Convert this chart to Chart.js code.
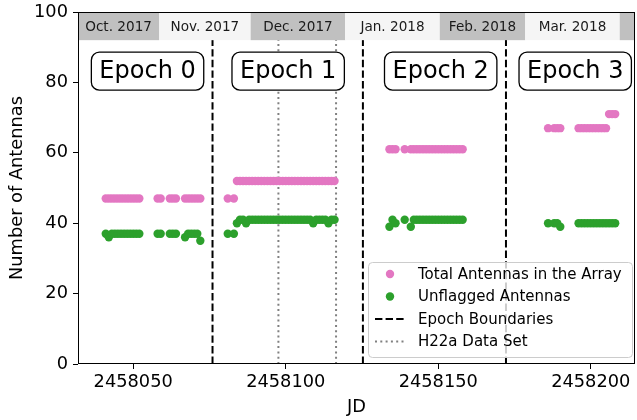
<!DOCTYPE html>
<html>
<head>
<meta charset="utf-8">
<title>Antennas per night</title>
<script src="https://cdn.jsdelivr.net/npm/chart.js@4.4.1/dist/chart.umd.min.js"></script>
<style>
    html, body { margin: 0; padding: 0; background: #ffffff; }
    #wrap { width: 637px; height: 420px; }
</style>
</head>
<body>
<div id="wrap"><canvas id="antennas" width="637" height="420"></canvas></div>
<script>
(function (window, document) {
    'use strict';

    // Observing nights (JD) and antenna counts per night, epoch by epoch
    var nights = [
        2458041, 2458042, 2458043, 2458044, 2458045, 2458046, 2458047, 2458048, 2458049, 2458050, 2458051, 2458052,
        2458058, 2458059, 2458062, 2458063, 2458064,
        2458067, 2458068, 2458069, 2458070, 2458071, 2458072,

        2458081, 2458083,
        2458084, 2458085, 2458086, 2458087, 2458088, 2458089, 2458090, 2458091, 2458092, 2458093, 2458094,
        2458095, 2458096, 2458097, 2458098, 2458099, 2458100, 2458101, 2458102, 2458103, 2458104, 2458105,
        2458106, 2458107, 2458108, 2458109, 2458110, 2458111, 2458112, 2458113, 2458114, 2458115, 2458116,

        2458134, 2458135, 2458136, 2458139,
        2458141, 2458142, 2458143, 2458144, 2458145, 2458146, 2458147, 2458148, 2458149,
        2458150, 2458151, 2458152, 2458153, 2458154, 2458155, 2458156, 2458157, 2458158,

        2458186, 2458188, 2458189, 2458190,
        2458196, 2458197, 2458198, 2458199, 2458200, 2458201, 2458202, 2458203, 2458204, 2458205,
        2458206, 2458207, 2458208
    ];

    var totalAnts = [
        47, 47, 47, 47, 47, 47, 47, 47, 47, 47, 47, 47,
        47, 47, 47, 47, 47,
        47, 47, 47, 47, 47, 47,

        47, 47,
        52, 52, 52, 52, 52, 52, 52, 52, 52, 52, 52,
        52, 52, 52, 52, 52, 52, 52, 52, 52, 52, 52,
        52, 52, 52, 52, 52, 52, 52, 52, 52, 52, 52,

        61, 61, 61, 61,
        61, 61, 61, 61, 61, 61, 61, 61, 61,
        61, 61, 61, 61, 61, 61, 61, 61, 61,

        67, 67, 67, 67,
        67, 67, 67, 67, 67, 67, 67, 67, 67, 67,
        71, 71, 71
    ];

    var unflaggedAnts = [
        37, 36, 37, 37, 37, 37, 37, 37, 37, 37, 37, 37,
        37, 37, 37, 37, 37,
        36, 37, 37, 37, 37, 35,

        37, 37,
        40, 41, 41, 40, 41, 41, 41, 41, 41, 41, 41,
        41, 41, 41, 41, 41, 41, 41, 41, 41, 41, 41,
        41, 41, 41, 40, 41, 41, 41, 41, 40, 41, 41,

        39, 41, 40, 41,
        39, 41, 41, 41, 41, 41, 41, 41, 41,
        41, 41, 41, 41, 41, 41, 41, 41, 41,

        40, 40, 40, 39,
        40, 40, 40, 40, 40, 40, 40, 40, 40, 40,
        40, 40, 40
    ];

    var epochEdges = [2458076.0, 2458125.3, 2458172.2];
    var h22aEdges = [2458097.6, 2458116.5];

    var epochNames = ['Epoch 0', 'Epoch 1', 'Epoch 2', 'Epoch 3'];
    var epochNameJD = [2458054.7, 2458100.8, 2458150.8, 2458194.9];

    var monthStarts = [2458027.5, 2458058.5, 2458088.5, 2458119.5, 2458150.5, 2458178.5, 2458209.5, 2458239.5];
    var monthNames = ['Oct. 2017', 'Nov. 2017', 'Dec. 2017', 'Jan. 2018', 'Feb. 2018', 'Mar. 2018', 'Apr. 2018'];

    var xTicks = [2458050, 2458100, 2458150, 2458200];
    var yTicks = [0, 20, 40, 60, 80, 100];

    var FONT = "'DejaVu Sans', 'Liberation Sans', sans-serif";
    var PINK = '#e377c2';
    var GREEN = '#2ca02c';

    function points(values) {
        return nights.map(function (jd, i) {
            return { x: jd, y: values[i] };
        });
    }

    function clipToArea(ctx, area) {
        ctx.beginPath();
        ctx.rect(area.left, area.top, area.right - area.left, area.bottom - area.top);
        ctx.clip();
    }

    function vline(ctx, xs, ys, jd) {
        var px = xs.getPixelForValue(jd);
        ctx.beginPath();
        ctx.moveTo(px, ys.getPixelForValue(0));
        ctx.lineTo(px, ys.getPixelForValue(100));
        ctx.stroke();
    }

    function roundRect(ctx, x, y, w, h, r) {
        ctx.beginPath();
        ctx.moveTo(x + r, y);
        ctx.lineTo(x + w - r, y);
        ctx.arcTo(x + w, y, x + w, y + r, r);
        ctx.lineTo(x + w, y + h - r);
        ctx.arcTo(x + w, y + h, x + w - r, y + h, r);
        ctx.lineTo(x + r, y + h);
        ctx.arcTo(x, y + h, x, y + h - r, r);
        ctx.lineTo(x, y + r);
        ctx.arcTo(x, y, x + r, y, r);
        ctx.closePath();
    }

    // no extra room for the end tick labels, the frame sits where the layout puts it
    function dropLabelPadding(scale) {
        scale.paddingTop = 0;
        scale.paddingBottom = 0;
        scale.paddingLeft = 0;
        scale.paddingRight = 0;
    }

    // boundaries, H22a range and the month strip along the top
    var backdrop = {
        id: 'backdrop',
        beforeDatasetsDraw: function (chart) {
            var ctx = chart.ctx;
            var area = chart.chartArea;
            var xs = chart.scales.x;
            var ys = chart.scales.y;

            ctx.save();
            clipToArea(ctx, area);

            ctx.lineWidth = 2;
            ctx.strokeStyle = '#000000';
            ctx.setLineDash([7.4, 3.2]);
            epochEdges.forEach(function (jd) { vline(ctx, xs, ys, jd); });

            ctx.strokeStyle = '#808080';
            ctx.setLineDash([2, 3.3]);
            h22aEdges.forEach(function (jd) { vline(ctx, xs, ys, jd); });
            ctx.setLineDash([]);

            var top = ys.getPixelForValue(100);
            var bottom = ys.getPixelForValue(92);

            ctx.font = '13.6px ' + FONT;
            ctx.textAlign = 'center';
            ctx.textBaseline = 'middle';

            monthNames.forEach(function (name, i) {
                var x0 = Math.max(xs.getPixelForValue(monthStarts[i]), area.left);
                var x1 = Math.min(xs.getPixelForValue(monthStarts[i + 1]), area.right);

                if (x1 <= x0) {
                    return;
                }

                ctx.fillStyle = i % 2 === 0 ? '#c0c0c0' : '#f5f5f5';
                ctx.fillRect(x0, top, x1 - x0, bottom - top);

                if (ctx.measureText(name).width < x1 - x0) {
                    ctx.fillStyle = '#1a1a1a';
                    ctx.fillText(name, (x0 + x1) / 2, (top + bottom) / 2 + 1);
                }
            });

            ctx.restore();
        }
    };

    // epoch tags, legend and the frame
    var overlay = {
        id: 'overlay',
        afterDatasetsDraw: function (chart) {
            var ctx = chart.ctx;
            var area = chart.chartArea;
            var xs = chart.scales.x;
            var ys = chart.scales.y;

            ctx.save();
            ctx.font = '24px ' + FONT;
            ctx.textAlign = 'center';
            ctx.textBaseline = 'middle';

            epochNames.forEach(function (name, i) {
                var cx = xs.getPixelForValue(epochNameJD[i]);
                var cy = ys.getPixelForValue(83.2);
                var w = ctx.measureText(name).width + 16;
                var h = 38;

                roundRect(ctx, cx - w / 2, cy - h / 2, w, h, 8);
                ctx.fillStyle = '#ffffff';
                ctx.fill();
                ctx.lineWidth = 1.3;
                ctx.strokeStyle = '#000000';
                ctx.stroke();

                ctx.fillStyle = '#000000';
                ctx.fillText(name, cx, cy + 1);
            });

            // legend box in the lower right corner
            var boxW = 264;
            var boxH = 95;
            var left = area.right - 3 - boxW;
            var top = area.bottom - 7 - boxH;
            var rowH = 22.5;

            roundRect(ctx, left + 0.5, top + 0.5, boxW, boxH, 4);
            ctx.fillStyle = 'rgba(255,255,255,0.8)';
            ctx.fill();
            ctx.lineWidth = 1;
            ctx.strokeStyle = '#cccccc';
            ctx.stroke();

            var rows = [
                { label: 'Total Antennas in the Array', kind: 'dot', color: PINK },
                { label: 'Unflagged Antennas', kind: 'dot', color: GREEN },
                { label: 'Epoch Boundaries', kind: 'line', color: '#000000', dash: [7.4, 3.2] },
                { label: 'H22a Data Set', kind: 'line', color: '#808080', dash: [2, 3.3] }
            ];

            ctx.font = '15px ' + FONT;
            ctx.textAlign = 'left';

            rows.forEach(function (row, i) {
                var y = top + 12 + i * rowH;

                if (row.kind === 'dot') {
                    ctx.beginPath();
                    ctx.arc(left + 22, y, 4.2, 0, Math.PI * 2);
                    ctx.fillStyle = row.color;
                    ctx.fill();
                } else {
                    ctx.beginPath();
                    ctx.setLineDash(row.dash);
                    ctx.lineWidth = 2;
                    ctx.strokeStyle = row.color;
                    ctx.moveTo(left + 7, y);
                    ctx.lineTo(left + 37, y);
                    ctx.stroke();
                    ctx.setLineDash([]);
                }

                ctx.fillStyle = '#000000';
                ctx.fillText(row.label, left + 50, y + 1);
            });

            ctx.restore();
        },
        afterDraw: function (chart) {
            var ctx = chart.ctx;
            var area = chart.chartArea;

            ctx.save();
            ctx.lineWidth = 1;
            ctx.strokeStyle = '#000000';
            ctx.strokeRect(Math.round(area.left) + 0.5, Math.round(area.top) + 0.5,
                Math.round(area.right - area.left) - 1, Math.round(area.bottom - area.top) - 1);
            ctx.restore();
        }
    };

    var tickFont = { family: FONT, size: 17.8 };

    new Chart(document.getElementById('antennas'), {
        type: 'scatter',
        data: {
            datasets: [{
                label: 'Total Antennas in the Array',
                data: points(totalAnts),
                backgroundColor: PINK,
                borderWidth: 0,
                pointRadius: 4.2,
                pointHoverRadius: 4.2
            }, {
                label: 'Unflagged Antennas',
                data: points(unflaggedAnts),
                backgroundColor: GREEN,
                borderWidth: 0,
                pointRadius: 4.2,
                pointHoverRadius: 4.2
            }]
        },
        options: {
            responsive: false,
            animation: false,
            layout: {
                autoPadding: false,
                padding: { top: 12, right: 2, bottom: 0, left: 0 }
            },
            plugins: {
                legend: { display: false },
                tooltip: { enabled: false }
            },
            scales: {
                x: {
                    type: 'linear',
                    min: 2458031.9,
                    max: 2458214.5,
                    afterBuildTicks: function (scale) {
                        scale.ticks = xTicks.map(function (v) { return { value: v }; });
                    },
                    afterFit: function (scale) {
                        scale.height = 56;
                        dropLabelPadding(scale);
                    },
                    grid: { drawOnChartArea: false, drawTicks: true, tickLength: 5, color: '#000000' },
                    border: { display: false },
                    ticks: {
                        color: '#000000',
                        font: tickFont,
                        padding: 3,
                        maxRotation: 0,
                        callback: function (value) { return String(value); }
                    },
                    title: {
                        display: true,
                        text: 'JD',
                        color: '#000000',
                        font: tickFont,
                        padding: { top: 0, bottom: 2 }
                    }
                },
                y: {
                    min: 0,
                    max: 100,
                    afterBuildTicks: function (scale) {
                        scale.ticks = yTicks.map(function (v) { return { value: v }; });
                    },
                    afterFit: function (scale) {
                        scale.width = 78;
                        dropLabelPadding(scale);
                    },
                    grid: { drawOnChartArea: false, drawTicks: true, tickLength: 5, color: '#000000' },
                    border: { display: false },
                    ticks: {
                        color: '#000000',
                        font: tickFont,
                        padding: 5
                    },
                    title: {
                        display: true,
                        text: 'Number of Antennas',
                        color: '#000000',
                        font: tickFont,
                        padding: { top: 7, bottom: 0 }
                    }
                }
            }
        },
        plugins: [backdrop, overlay]
    });
})(window, document);
</script>
</body>
</html>
